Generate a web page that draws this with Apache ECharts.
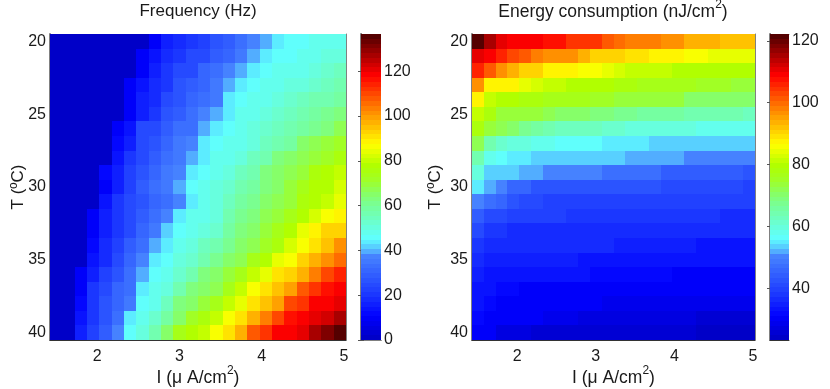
<!DOCTYPE html>
<html>
<head>
<meta charset="utf-8">
<style>
  html, body { margin: 0; background: #fff; }
  #chart { width: 830px; height: 389px; }
</style>
<script src="https://cdn.jsdelivr.net/npm/echarts@6/dist/echarts.min.js"></script>
</head>
<body>
<div id="chart"></div>
<script>
// cell centres
const currents = [1.5, 1.65, 1.8, 1.95, 2.1, 2.25, 2.4, 2.55, 2.7, 2.85, 3, 3.15, 3.3, 3.45, 3.6, 3.75, 3.9, 4.05, 4.2, 4.35, 4.5, 4.65, 4.8, 4.95];
const temps = [20, 21, 22, 23, 24, 25, 26, 27, 28, 29, 30, 31, 32, 33, 34, 35, 36, 37, 38, 39, 40];

const frequency = [
  [2, 2, 2, 2, 2, 2, 2, 2, 10, 17, 19, 21, 23, 26, 29, 33, 37, 40, 43, 45, 45, 47, 48, 49],
  [2, 2, 2, 2, 2, 2, 2, 10, 13, 19, 20, 24, 25, 28, 32, 36, 39, 43, 45, 46, 47, 49, 50, 51],
  [2, 2, 2, 2, 2, 2, 2, 10, 17, 20, 24, 25, 30, 33, 37, 39, 44, 45, 47, 48, 49, 50, 52, 55],
  [2, 2, 2, 2, 2, 2, 10, 14, 18, 20, 26, 28, 30, 36, 39, 44, 46, 47, 49, 50, 51, 53, 54, 57],
  [2, 2, 2, 2, 2, 2, 10, 16, 19, 24, 26, 31, 33, 36, 44, 45, 47, 49, 50, 52, 54, 56, 57, 59],
  [2, 2, 2, 2, 2, 2, 10, 17, 20, 27, 29, 34, 37, 39, 43, 47, 48, 51, 53, 55, 57, 58, 60, 63],
  [2, 2, 2, 2, 2, 10, 14, 24, 24, 28, 33, 33, 39, 43, 45, 47, 50, 52, 55, 57, 59, 60, 63, 67],
  [2, 2, 2, 2, 2, 11, 17, 25, 27, 32, 35, 37, 44, 45, 47, 49, 51, 54, 57, 58, 65, 67, 69, 72],
  [2, 2, 2, 2, 2, 14, 20, 25, 29, 33, 35, 40, 44, 47, 48, 51, 54, 57, 63, 65, 67, 69, 71, 75],
  [2, 2, 2, 2, 12, 16, 22, 27, 30, 36, 38, 44, 45, 49, 51, 54, 57, 62, 65, 67, 70, 75, 77, 80],
  [2, 2, 2, 2, 10, 17, 22, 29, 33, 36, 40, 46, 48, 50, 53, 57, 59, 63, 66, 70, 74, 78, 78, 83],
  [2, 2, 2, 2, 13, 20, 24, 27, 30, 34, 37, 44, 48, 50, 54, 58, 60, 65, 67, 70, 76, 78, 81, 85],
  [2, 2, 2, 10, 15, 20, 24, 28, 33, 38, 44, 47, 49, 50, 56, 60, 64, 67, 69, 73, 77, 83, 87, 88],
  [2, 2, 2, 10, 17, 21, 25, 30, 36, 42, 45, 49, 50, 53, 58, 62, 66, 69, 73, 78, 84, 88, 92, 93],
  [2, 2, 2, 11, 18, 22, 28, 33, 39, 44, 48, 50, 54, 57, 60, 65, 68, 71, 76, 83, 86, 91, 95, 101],
  [2, 2, 2, 14, 19, 25, 31, 37, 43, 46, 50, 53, 57, 60, 65, 68, 73, 78, 84, 87, 92, 97, 101, 106],
  [2, 2, 10, 17, 22, 27, 33, 39, 45, 49, 52, 57, 62, 65, 69, 73, 79, 85, 90, 93, 98, 104, 109, 115],
  [2, 2, 10, 20, 25, 30, 34, 43, 47, 51, 56, 64, 66, 68, 74, 80, 86, 90, 95, 100, 107, 113, 117, 119],
  [2, 2, 11, 20, 26, 30, 36, 45, 48, 54, 62, 66, 70, 74, 81, 85, 90, 95, 100, 109, 113, 118, 119, 120],
  [2, 2, 13, 21, 26, 34, 44, 48, 53, 59, 66, 71, 76, 80, 86, 90, 97, 103, 109, 116, 118, 120, 122, 127],
  [2, 2, 17, 23, 28, 37, 45, 50, 57, 66, 74, 78, 81, 86, 90, 97, 107, 113, 118, 119, 120, 127, 131, 136]
];

const energy = [
  [121, 116, 111, 109, 109, 109, 108, 107, 105, 104, 104, 101, 100, 99, 98, 98, 96, 96, 94, 94, 94, 92, 92, 92],
  [111, 109, 106, 103, 101, 99, 97, 97, 96, 94, 91, 91, 90, 89, 89, 87, 87, 87, 86, 86, 85, 85, 84, 84],
  [106, 101, 96, 93, 91, 90, 88, 87, 87, 86, 86, 85, 83, 82, 82, 82, 81, 80, 80, 80, 80, 80, 79, 79],
  [96, 87, 87, 87, 85, 83, 81, 81, 80, 80, 79, 79, 78, 78, 77, 77, 76, 76, 76, 75, 75, 75, 74, 74],
  [87, 82, 80, 80, 78, 78, 77, 77, 76, 76, 75, 75, 74, 74, 73, 73, 73, 73, 71, 71, 71, 71, 71, 70],
  [82, 78, 74, 74, 73, 73, 72, 71, 70, 70, 69, 69, 68, 68, 66, 66, 66, 66, 65, 65, 65, 65, 65, 63],
  [78, 74, 72, 70, 68, 66, 65, 63, 62, 62, 62, 61, 61, 60, 60, 60, 59, 59, 59, 58, 58, 58, 58, 58],
  [72, 64, 61, 59, 59, 58, 58, 57, 57, 57, 56, 55, 55, 55, 55, 54, 54, 54, 54, 54, 53, 53, 53, 53],
  [64, 58, 56, 55, 55, 54, 54, 54, 53, 53, 53, 53, 53, 52, 52, 52, 52, 52, 50, 50, 50, 50, 50, 50],
  [59, 54, 53, 53, 52, 52, 50, 50, 50, 50, 50, 48, 47, 47, 47, 47, 44, 44, 44, 44, 44, 44, 44, 42],
  [55, 52, 50, 46, 46, 43, 43, 43, 43, 42, 42, 42, 42, 42, 42, 42, 41, 41, 41, 41, 41, 41, 41, 40],
  [50, 47, 45, 42, 41, 41, 40, 40, 40, 40, 40, 40, 40, 40, 40, 40, 39, 39, 39, 39, 39, 39, 39, 39],
  [44, 41, 41, 40, 40, 39, 39, 39, 38, 38, 38, 38, 38, 38, 38, 38, 38, 38, 38, 38, 38, 37, 37, 37],
  [41, 38, 38, 37, 37, 37, 37, 36, 36, 36, 36, 36, 36, 36, 36, 36, 36, 36, 36, 36, 36, 36, 36, 36],
  [38, 36, 36, 36, 36, 36, 36, 36, 36, 36, 36, 36, 35, 35, 35, 35, 35, 35, 35, 34, 34, 34, 34, 34],
  [37, 35, 35, 35, 35, 35, 35, 35, 35, 34, 34, 34, 34, 34, 34, 34, 33, 33, 33, 33, 33, 33, 33, 33],
  [35, 34, 34, 34, 34, 34, 34, 34, 33, 33, 32, 32, 32, 32, 32, 32, 32, 31, 31, 31, 31, 31, 31, 31],
  [34, 33, 32, 32, 31, 31, 31, 31, 31, 31, 31, 31, 30, 30, 30, 30, 30, 30, 30, 30, 30, 30, 30, 30],
  [33, 32, 31, 31, 30, 30, 30, 30, 30, 30, 30, 29, 29, 29, 29, 29, 29, 29, 29, 29, 29, 29, 29, 29],
  [32, 31, 30, 30, 30, 30, 29, 28, 28, 27, 27, 27, 27, 27, 27, 27, 27, 27, 27, 26, 26, 26, 26, 26],
  [31, 30, 27, 27, 27, 26, 25, 25, 25, 25, 25, 25, 25, 25, 25, 25, 25, 25, 25, 24, 24, 24, 24, 24]
];

const currentTicks = [2, 3, 4, 5];
const tempTicks = [20, 25, 30, 35, 40];
const freqBarTicks = [0, 20, 40, 60, 80, 100, 120];
const energyBarTicks = [40, 60, 80, 100, 120];
const freqRange = [0, 136.6];
const energyRange = [23.3, 122.2];

// colormap of the picture: jet, a bit washed out around blue/cyan
const cmapStops = [
  [0, 0, 0, 200], [0.07, 0, 0, 255], [0.15, 30, 60, 255], [0.27, 70, 130, 255],
  [0.29, 85, 185, 255], [0.31, 90, 225, 255], [0.33, 95, 255, 255], [0.44, 120, 255, 150],
  [0.48, 135, 255, 100], [0.52, 160, 255, 40], [0.57, 175, 255, 0],
  [0.64, 255, 255, 0], [0.75, 255, 140, 0], [0.87, 255, 0, 0], [1, 85, 0, 0]
];
const LEVELS = 64;

function cmap(value, range) {
  let f = (value - range[0]) / (range[1] - range[0]);
  f = Math.max(0, Math.min(1, f));
  f = Math.min(LEVELS - 1, Math.floor(f * LEVELS)) / (LEVELS - 1);
  for (let i = 1; i < cmapStops.length; i++) {
    const a = cmapStops[i - 1], b = cmapStops[i];
    if (f <= b[0]) {
      const t = (f - a[0]) / (b[0] - a[0]);
      const c = [1, 2, 3].map((k) => Math.round(a[k] + (b[k] - a[k]) * t));
      return "rgb(" + c.join(",") + ")";
    }
  }
  return "rgb(85,0,0)";
}

function cellData(matrix) {
  const out = [];
  matrix.forEach((row, r) => {
    row.forEach((v, c) => {
      out.push([currents[c], temps[r], v]);
    });
  });
  return out;
}

function rectFrom(api, x0, y0, x1, y1, color) {
  const p0 = api.coord([x0, y0]);
  const p1 = api.coord([x1, y1]);
  const left = Math.round(Math.min(p0[0], p1[0]));
  const right = Math.round(Math.max(p0[0], p1[0]));
  const top = Math.round(Math.min(p0[1], p1[1]));
  const bottom = Math.round(Math.max(p0[1], p1[1]));
  return {
    type: "rect",
    shape: { x: left, y: top, width: right - left, height: bottom - top },
    style: { fill: color },
  };
}

function mapSeries(xAxisIndex, yAxisIndex, matrix, range) {
  return {
    type: "custom",
    xAxisIndex,
    yAxisIndex,
    silent: true,
    clip: true,
    data: cellData(matrix),
    encode: { x: 0, y: 1 },
    renderItem(params, api) {
      const x = api.value(0), y = api.value(1);
      return rectFrom(api, x - 0.075, y - 0.5, x + 0.075, y + 0.5, cmap(api.value(2), range));
    },
  };
}

function barSeries(xAxisIndex, yAxisIndex, range) {
  const levels = [];
  for (let i = 0; i < LEVELS; i++) levels.push([0, i]);
  const step = (range[1] - range[0]) / LEVELS;
  return {
    type: "custom",
    xAxisIndex,
    yAxisIndex,
    silent: true,
    data: levels,
    encode: { y: 1 },
    renderItem(params, api) {
      const low = range[0] + api.value(1) * step;
      return rectFrom(api, 0, low, 1, low + step, cmap(low + step / 2, range));
    },
  };
}

const FONT = "Liberation Sans";
const GREY = "#808080";
const TICK = "#555";
const LABEL = "#1a1a1a";

const subRich = {
  sup: { fontFamily: FONT, fontSize: 12, fontWeight: "normal", color: LABEL, verticalAlign: "top", lineHeight: 22 },
  base: { fontFamily: FONT, fontSize: 17.5, fontWeight: "normal", color: LABEL, verticalAlign: "bottom", lineHeight: 22 },
};

function xAxes(gridIndex, ticks, range, withName) {
  const common = { type: "value", gridIndex, min: range[0], max: range[1], splitLine: { show: false } };
  return [
    Object.assign({}, common, {
      position: "bottom",
      name: withName ? "{base|I (μ A/cm}{sup|2}{base|)}" : "",
      nameLocation: "middle",
      nameGap: 25,
      nameMoveOverlap: false,
      nameTextStyle: { rich: subRich },
      axisLine: { show: true, lineStyle: { color: "#333", width: 1 } },
      axisTick: { show: withName, inside: true, length: 3, customValues: ticks, lineStyle: { color: TICK } },
      axisLabel: {
        show: withName, customValues: ticks, margin: 9,
        fontFamily: FONT, fontSize: 16, color: LABEL,
      },
    }),
    Object.assign({}, common, {
      position: "top",
      axisLine: { show: true, lineStyle: { color: GREY, width: 1 } },
      axisTick: { show: withName, inside: true, length: 3, customValues: ticks, lineStyle: { color: TICK } },
      axisLabel: { show: false },
    }),
  ];
}

function mapYAxes(gridIndex, nameGap) {
  const common = {
    type: "value", gridIndex, min: 19.5, max: 40.5, inverse: true, splitLine: { show: false },
  };
  return [
    Object.assign({}, common, {
      position: "left",
      name: "T (ºC)",
      nameLocation: "middle",
      nameGap,
      nameMoveOverlap: false,
      nameTextStyle: { fontFamily: FONT, fontSize: 17, color: LABEL },
      axisLine: { show: true, lineStyle: { color: GREY, width: 2 } },
      axisTick: { show: true, inside: true, length: 3, customValues: tempTicks, lineStyle: { color: TICK } },
      axisLabel: { customValues: tempTicks, margin: 4, fontFamily: FONT, fontSize: 16, color: LABEL },
    }),
    Object.assign({}, common, {
      position: "right",
      axisLine: { show: true, lineStyle: { color: GREY, width: 1 } },
      axisTick: { show: true, inside: true, length: 3, customValues: tempTicks, lineStyle: { color: TICK } },
      axisLabel: { show: false },
    }),
  ];
}

function barYAxes(gridIndex, ticks, range) {
  const common = { type: "value", gridIndex, min: range[0], max: range[1], splitLine: { show: false } };
  return [
    Object.assign({}, common, {
      position: "right",
      axisLine: { show: true, lineStyle: { color: "#333", width: 1 } },
      axisTick: { show: true, inside: true, length: 3, customValues: ticks, lineStyle: { color: TICK } },
      axisLabel: { customValues: ticks, margin: 3, fontFamily: FONT, fontSize: 16, color: LABEL },
    }),
    Object.assign({}, common, {
      position: "left",
      axisLine: { show: true, lineStyle: { color: GREY, width: 2 } },
      axisTick: { show: true, inside: true, length: 3, customValues: ticks, lineStyle: { color: TICK } },
      axisLabel: { show: false },
    }),
  ];
}

const currentRange = [1.425, 5.025];
const barX = [0, 1];

const option = {
  animation: false,
  backgroundColor: "#fff",
  title: [
    {
      text: "Frequency (Hz)",
      left: 193, top: -2, textAlign: "center",
      textStyle: { fontFamily: FONT, fontSize: 17, fontWeight: "normal", color: LABEL },
    },
    {
      text: "{base|Energy consumption (nJ/cm}{sup|2}{base|)}",
      left: 608, top: -6, textAlign: "center",
      textStyle: { rich: subRich },
    },
  ],
  grid: [
    { left: 50, top: 34, width: 296, height: 306, outerBoundsMode: "none" },
    { left: 361, top: 34, width: 20, height: 306, outerBoundsMode: "none" },
    { left: 472, top: 34, width: 283, height: 306, outerBoundsMode: "none" },
    { left: 770, top: 34, width: 19, height: 306, outerBoundsMode: "none" },
  ],
  xAxis: [].concat(
    xAxes(0, currentTicks, currentRange, true),
    xAxes(1, [], barX, false),
    xAxes(2, currentTicks, currentRange, true),
    xAxes(3, [], barX, false)
  ),
  yAxis: [].concat(
    mapYAxes(0, 23),
    barYAxes(1, freqBarTicks, freqRange),
    mapYAxes(2, 28),
    barYAxes(3, energyBarTicks, energyRange)
  ),
  series: [
    mapSeries(0, 0, frequency, freqRange),
    barSeries(2, 2, freqRange),
    mapSeries(4, 4, energy, energyRange),
    barSeries(6, 6, energyRange),
  ],
};

const chart = echarts.init(document.getElementById("chart"), null, { renderer: "canvas" });
chart.setOption(option);
</script>
</body>
</html>
